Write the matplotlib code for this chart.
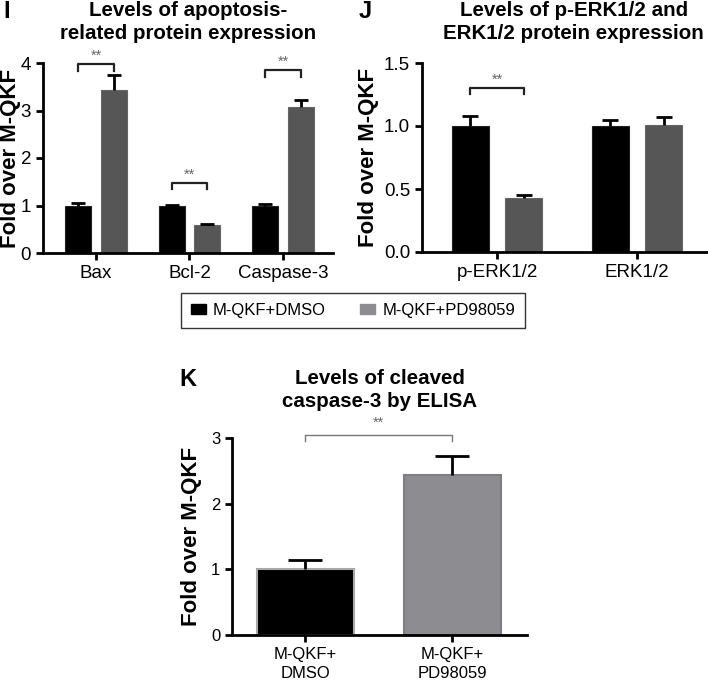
import matplotlib
matplotlib.use("Agg")
import matplotlib.pyplot as plt
from matplotlib.patches import Patch
import numpy as np

plt.rcParams['font.family'] = ['Liberation Sans', 'DejaVu Sans']

# ---- data ----
i_categories = ["Bax", "Bcl-2", "Caspase-3"]
i_dmso = [1.0, 1.0, 1.0]
i_dmso_err = [0.05, 0.02, 0.04]
i_pd = [3.43, 0.59, 3.08]
i_pd_err = [0.32, 0.03, 0.15]
i_brackets = [3.97, 1.48, 3.85]

j_categories = ["p-ERK1/2", "ERK1/2"]
j_dmso = [1.0, 1.0]
j_dmso_err = [0.08, 0.05]
j_pd = [0.43, 1.01]
j_pd_err = [0.02, 0.06]
j_brackets = [1.30]

k_categories = ["M-QKF+\nDMSO", "M-QKF+\nPD98059"]
k_values = [1.0, 2.44]
k_err = [0.14, 0.28]
k_bracket = 3.05

legend_labels = ["M-QKF+DMSO", "M-QKF+PD98059"]

BLACK = "#000000"
DGRAY = "#565656"
LGRAY = "#8d8d91"

fig = plt.figure(figsize=(7.08, 6.81), dpi=100)

def style_axes(ax, tick_fs):
    for s in ["top", "right"]:
        ax.spines[s].set_visible(False)
    for s in ["left", "bottom"]:
        ax.spines[s].set_linewidth(2)
    ax.tick_params(axis="both", width=2, length=5, labelsize=tick_fs, direction="out")
    ax.set_ylabel("Fold over M-QKF", fontsize=16, fontweight="bold")

def upbar(ax, x, y, e, capw=5):
    c = ax.errorbar(x, y, yerr=[np.zeros(len(y)), e], fmt="none", ecolor="black",
                    elinewidth=2, capsize=capw, capthick=2, zorder=3)
    c[1][0].set_visible(False)

def bracket(ax, x1, x2, y, h, color, lw, fs):
    ax.plot([x1, x1, x2, x2], [y - h, y, y, y - h], color=color, lw=lw, zorder=4,
            clip_on=False)
    ax.text((x1 + x2) / 2, y + h * 0.2, "**", ha="center", va="bottom",
            fontsize=fs, color="#666666")

# ---- panel I ----
axI = fig.add_axes([43 / 708, 1 - 253 / 681, 290 / 708, 190 / 681])
x = np.arange(len(i_categories))
off, w = 0.19, 0.28
axI.bar(x - off, i_dmso, w, color=BLACK, edgecolor="#222222", lw=0.8, zorder=2)
axI.bar(x + off, i_pd, w, color=DGRAY, edgecolor="#666666", lw=0.8, zorder=2)
upbar(axI, x - off, i_dmso, i_dmso_err)
upbar(axI, x + off, i_pd, i_pd_err)
for xi, b in zip(x, i_brackets):
    bracket(axI, xi - off, xi + off, b, 0.14, "#222222", 1.6, 10.5)
axI.set_xlim(-0.567, 2.535)
axI.set_ylim(0, 4)
axI.set_yticks([0, 1, 2, 3, 4])
axI.set_xticks(x)
axI.set_xticklabels(i_categories)
style_axes(axI, 13.5)
axI.yaxis.set_label_coords(-0.075, 0.5)
axI.set_title("Levels of apoptosis-\nrelated protein expression", fontsize=14.8,
              fontweight="bold", pad=17, linespacing=1.3)
fig.text(3 / 708, 1 - 11 / 681, "I", fontsize=17, fontweight="bold", va="center")

# ---- panel J ----
axJ = fig.add_axes([422 / 708, 1 - 252 / 681, 286 / 708, 189 / 681])
x = np.arange(len(j_categories))
off, w = 0.19, 0.264
axJ.bar(x - off, j_dmso, w, color=BLACK, edgecolor="#222222", lw=0.8, zorder=2)
axJ.bar(x + off, j_pd, w, color=DGRAY, edgecolor="#666666", lw=0.8, zorder=2)
upbar(axJ, x - off, j_dmso, j_dmso_err, capw=6)
upbar(axJ, x + off, j_pd, j_pd_err, capw=6)
for xi, b in zip(x, j_brackets):
    bracket(axJ, xi - off, xi + off, b, 0.045, "#222222", 1.6, 10.5)
axJ.set_xlim(-0.536, 1.507)
axJ.set_ylim(0, 1.5)
axJ.set_yticks([0.0, 0.5, 1.0, 1.5])
axJ.set_yticklabels(["0.0", "0.5", "1.0", "1.5"])
axJ.set_xticks(x)
axJ.set_xticklabels(j_categories)
style_axes(axJ, 13.5)
axJ.yaxis.set_label_coords(-0.15, 0.5)
axJ.set_title("Levels of p-ERK1/2 and\nERK1/2 protein expression", fontsize=14.8,
              fontweight="bold", pad=17, linespacing=1.3, x=0.53)
fig.text(359 / 708, 1 - 11 / 681, "J", fontsize=17, fontweight="bold", va="center")

# ---- legend ----
handles = [Patch(facecolor=BLACK, edgecolor=BLACK),
           Patch(facecolor=LGRAY, edgecolor=LGRAY)]
leg = fig.legend(handles, legend_labels, loc="center", ncol=2,
                 bbox_to_anchor=(353 / 708, 1 - 310 / 681), fontsize=12, frameon=True,
                 fancybox=False, edgecolor="black", handlelength=0.9, handleheight=0.55,
                 columnspacing=2.05, handletextpad=0.42, borderpad=0.6)
leg.get_frame().set_linewidth(1)

# ---- panel K ----
axK = fig.add_axes([232 / 708, 1 - 635 / 681, 295 / 708, 197 / 681])
x = np.arange(len(k_categories))
axK.bar(x, k_values, 0.66, color=[BLACK, LGRAY], edgecolor=["#a8a8a8", "#7d7d82"],
        lw=1.5, zorder=2)
upbar(axK, x, k_values, k_err, capw=12)
axK.plot([x[0], x[0], x[1], x[1]], [k_bracket - 0.1, k_bracket, k_bracket, k_bracket - 0.1],
         color="#777777", lw=1, clip_on=False)
axK.text((x[0] + x[1]) / 2, k_bracket + 0.07, "**", ha="center", va="bottom",
         fontsize=10.5, color="#666666")
axK.set_xlim(-0.497, 1.51)
axK.set_ylim(0, 3)
axK.set_yticks([0, 1, 2, 3])
axK.set_xticks(x)
axK.set_xticklabels(k_categories, linespacing=1.35)
style_axes(axK, 12)
axK.yaxis.set_label_coords(-0.10, 0.5)
axK.set_title("Levels of cleaved\ncaspase-3 by ELISA", fontsize=14.8,
              fontweight="bold", pad=22, linespacing=1.3)
fig.text(179 / 708, 1 - 380 / 681, "K", fontsize=17, fontweight="bold", va="center")

fig.savefig("out.png", dpi=100)
